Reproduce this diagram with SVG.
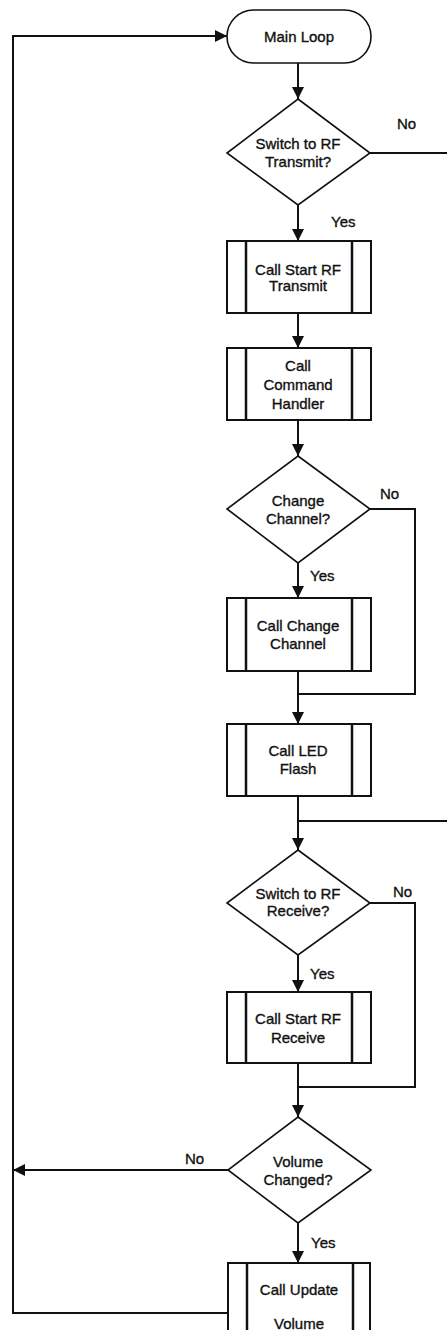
<svg xmlns="http://www.w3.org/2000/svg" width="447" height="1330" viewBox="0 0 447 1330">
<style>
text{font-family:"Liberation Sans",Arial,sans-serif;font-size:15px;fill:#111;stroke:#111;stroke-width:0.35;text-anchor:middle}
.lbl{text-anchor:start}
.box{fill:#fff;stroke:#111;stroke-width:2}
.bar{stroke:#111;stroke-width:2.5}
.dia{fill:#fff;stroke:#111;stroke-width:1.6}
.ln{fill:none;stroke:#111;stroke-width:2}
</style>
<defs>
<marker id="ah" viewBox="0 0 12 12" refX="12" refY="6" markerWidth="12" markerHeight="12" markerUnits="userSpaceOnUse" orient="auto">
<path d="M0,0 L12,6 L0,12 Z" fill="#111"/>
</marker>
</defs>
<g id="connectors">
<line class="ln" x1="298" y1="63" x2="298" y2="99" marker-end="url(#ah)"/>
<polyline class="ln" points="370,153 447,153"/>
<line class="ln" x1="298" y1="205" x2="298" y2="241" marker-end="url(#ah)"/>
<line class="ln" x1="298" y1="313" x2="298" y2="348" marker-end="url(#ah)"/>
<line class="ln" x1="298" y1="420" x2="298" y2="456" marker-end="url(#ah)"/>
<line class="ln" x1="298" y1="563" x2="298" y2="598" marker-end="url(#ah)"/>
<polyline class="ln" points="370,509 415,509 415,694 298,694"/>
<line class="ln" x1="298" y1="671" x2="298" y2="724" marker-end="url(#ah)"/>
<line class="ln" x1="298" y1="821" x2="447" y2="821"/>
<line class="ln" x1="298" y1="796" x2="298" y2="850" marker-end="url(#ah)"/>
<polyline class="ln" points="370,903 415,903 415,1087 298,1087"/>
<line class="ln" x1="298" y1="955" x2="298" y2="992" marker-end="url(#ah)"/>
<line class="ln" x1="298" y1="1063" x2="298" y2="1117" marker-end="url(#ah)"/>
<line class="ln" x1="228" y1="1170" x2="13" y2="1170" marker-end="url(#ah)"/>
<line class="ln" x1="298" y1="1223" x2="298" y2="1263" marker-end="url(#ah)"/>
<polyline class="ln" points="228,1313 13,1313 13,36 227,36" marker-end="url(#ah)"/>
</g>
<g id="main-loop">
<rect class="box" x="227" y="10" width="144" height="53" rx="26.5" ry="26.5" style="stroke-width:1.6"/>
<text x="299" y="41.5">Main Loop</text>
</g>
<g id="switch-rf-transmit">
<polygon class="dia" points="298,99 370,153 298,205 227,153"/>
<text x="298" y="148.5">Switch to RF</text>
<text x="298" y="167">Transmit?</text>
<text class="lbl" x="397" y="128.5">No</text>
<text class="lbl" x="331" y="227">Yes</text>
</g>
<g id="call-start-rf-transmit">
<rect class="box" x="227" y="241" width="144" height="72"/>
<line class="bar" x1="246" y1="241" x2="246" y2="313"/>
<line class="bar" x1="352" y1="241" x2="352" y2="313"/>
<text x="298" y="274.5">Call Start RF</text>
<text x="298" y="290.5">Transmit</text>
</g>
<g id="call-command-handler">
<rect class="box" x="227" y="348" width="144" height="72"/>
<line class="bar" x1="246" y1="348" x2="246" y2="420"/>
<line class="bar" x1="352" y1="348" x2="352" y2="420"/>
<text x="298" y="370.5">Call</text>
<text x="298" y="389.5">Command</text>
<text x="298" y="408.5">Handler</text>
</g>
<g id="change-channel-q">
<polygon class="dia" points="298,456 370,509 298,563 227,509"/>
<text x="298" y="505.5">Change</text>
<text x="298" y="523.5">Channel?</text>
<text class="lbl" x="380" y="498.5">No</text>
<text class="lbl" x="310" y="580.5">Yes</text>
</g>
<g id="call-change-channel">
<rect class="box" x="227" y="598" width="144" height="73"/>
<line class="bar" x1="246" y1="598" x2="246" y2="671"/>
<line class="bar" x1="352" y1="598" x2="352" y2="671"/>
<text x="298" y="630.5">Call Change</text>
<text x="298" y="649">Channel</text>
</g>
<g id="call-led-flash">
<rect class="box" x="227" y="724" width="144" height="72"/>
<line class="bar" x1="246" y1="724" x2="246" y2="796"/>
<line class="bar" x1="352" y1="724" x2="352" y2="796"/>
<text x="298" y="755.5">Call LED</text>
<text x="298" y="773.5">Flash</text>
</g>
<g id="switch-rf-receive">
<polygon class="dia" points="298,850 370,903 298,955 227,903"/>
<text x="298" y="898.5">Switch to RF</text>
<text x="298" y="915.5">Receive?</text>
<text class="lbl" x="393" y="896.5">No</text>
<text class="lbl" x="310" y="978.5">Yes</text>
</g>
<g id="call-start-rf-receive">
<rect class="box" x="227" y="992" width="144" height="71"/>
<line class="bar" x1="246" y1="992" x2="246" y2="1063"/>
<line class="bar" x1="352" y1="992" x2="352" y2="1063"/>
<text x="298" y="1023.5">Call Start RF</text>
<text x="298" y="1042.5">Receive</text>
</g>
<g id="volume-changed">
<polygon class="dia" points="298,1117 371,1170 298,1223 228,1170"/>
<text x="298" y="1166.5">Volume</text>
<text x="298" y="1184.5">Changed?</text>
<text class="lbl" x="185" y="1163.5">No</text>
<text class="lbl" x="311" y="1247.5">Yes</text>
</g>
<g id="call-update-volume">
<rect class="box" x="228" y="1263" width="142" height="80"/>
<line class="bar" x1="247" y1="1262" x2="247" y2="1343"/>
<line class="bar" x1="353" y1="1263" x2="353" y2="1343"/>
<text x="299" y="1294.5">Call Update</text>
<text x="299" y="1328.5">Volume</text>
</g>
</svg>
